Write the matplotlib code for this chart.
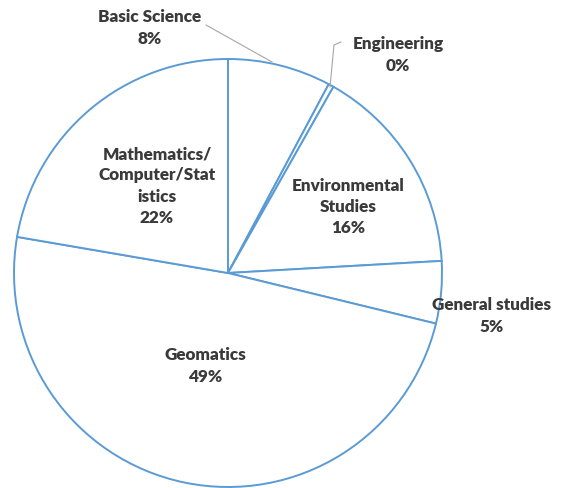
import matplotlib.pyplot as plt

labels = ["Basic Science", "Engineering", "Environmental\nStudies", "General studies",
          "Geomatics", "Mathematics/\nComputer/Stat\nistics"]
values = [7.8, 0.4, 15.9, 4.7, 48.9, 22.3]
shown_pct = ["8%", "0%", "16%", "5%", "49%", "22%"]

# label centres in pixel coords (x, y from top)
label_pos = [(150, 28), (398, 55), (348, 207), (492, 316), (205, 366), (157, 186)]

W, H = 566, 488


def main():
    fig = plt.figure(figsize=(W / 100, H / 100), dpi=100)
    ax = fig.add_axes([0, 0, 1, 1])

    cx, cy, r = 228, H - 273, 214
    ax.pie(values, startangle=90, counterclock=False, center=(cx, cy), radius=r,
           colors=["white"] * len(values), frame=True,
           wedgeprops=dict(edgecolor="#5B9BD5", linewidth=1.4))
    ax.set_xlim(0, W)
    ax.set_ylim(0, H)
    ax.set_aspect("equal")
    ax.axis("off")

    for lab, pct, (x, y) in zip(labels, shown_pct, label_pos):
        ax.text(x, H - y, lab + "\n" + pct, ha="center", va="center",
                fontsize=12.3, fontweight="heavy", family="Lato",
                color="#3a3a3a", linespacing=1.4)

    # leader lines
    ax.plot([206, 272], [H - 25, H - 62], color="#A6A6A6", linewidth=0.8)
    ax.plot([341, 334, 330], [H - 42, H - 45, H - 87], color="#A6A6A6", linewidth=0.8)

    fig.savefig("out.png", dpi=100)


if __name__ == "__main__":
    main()
